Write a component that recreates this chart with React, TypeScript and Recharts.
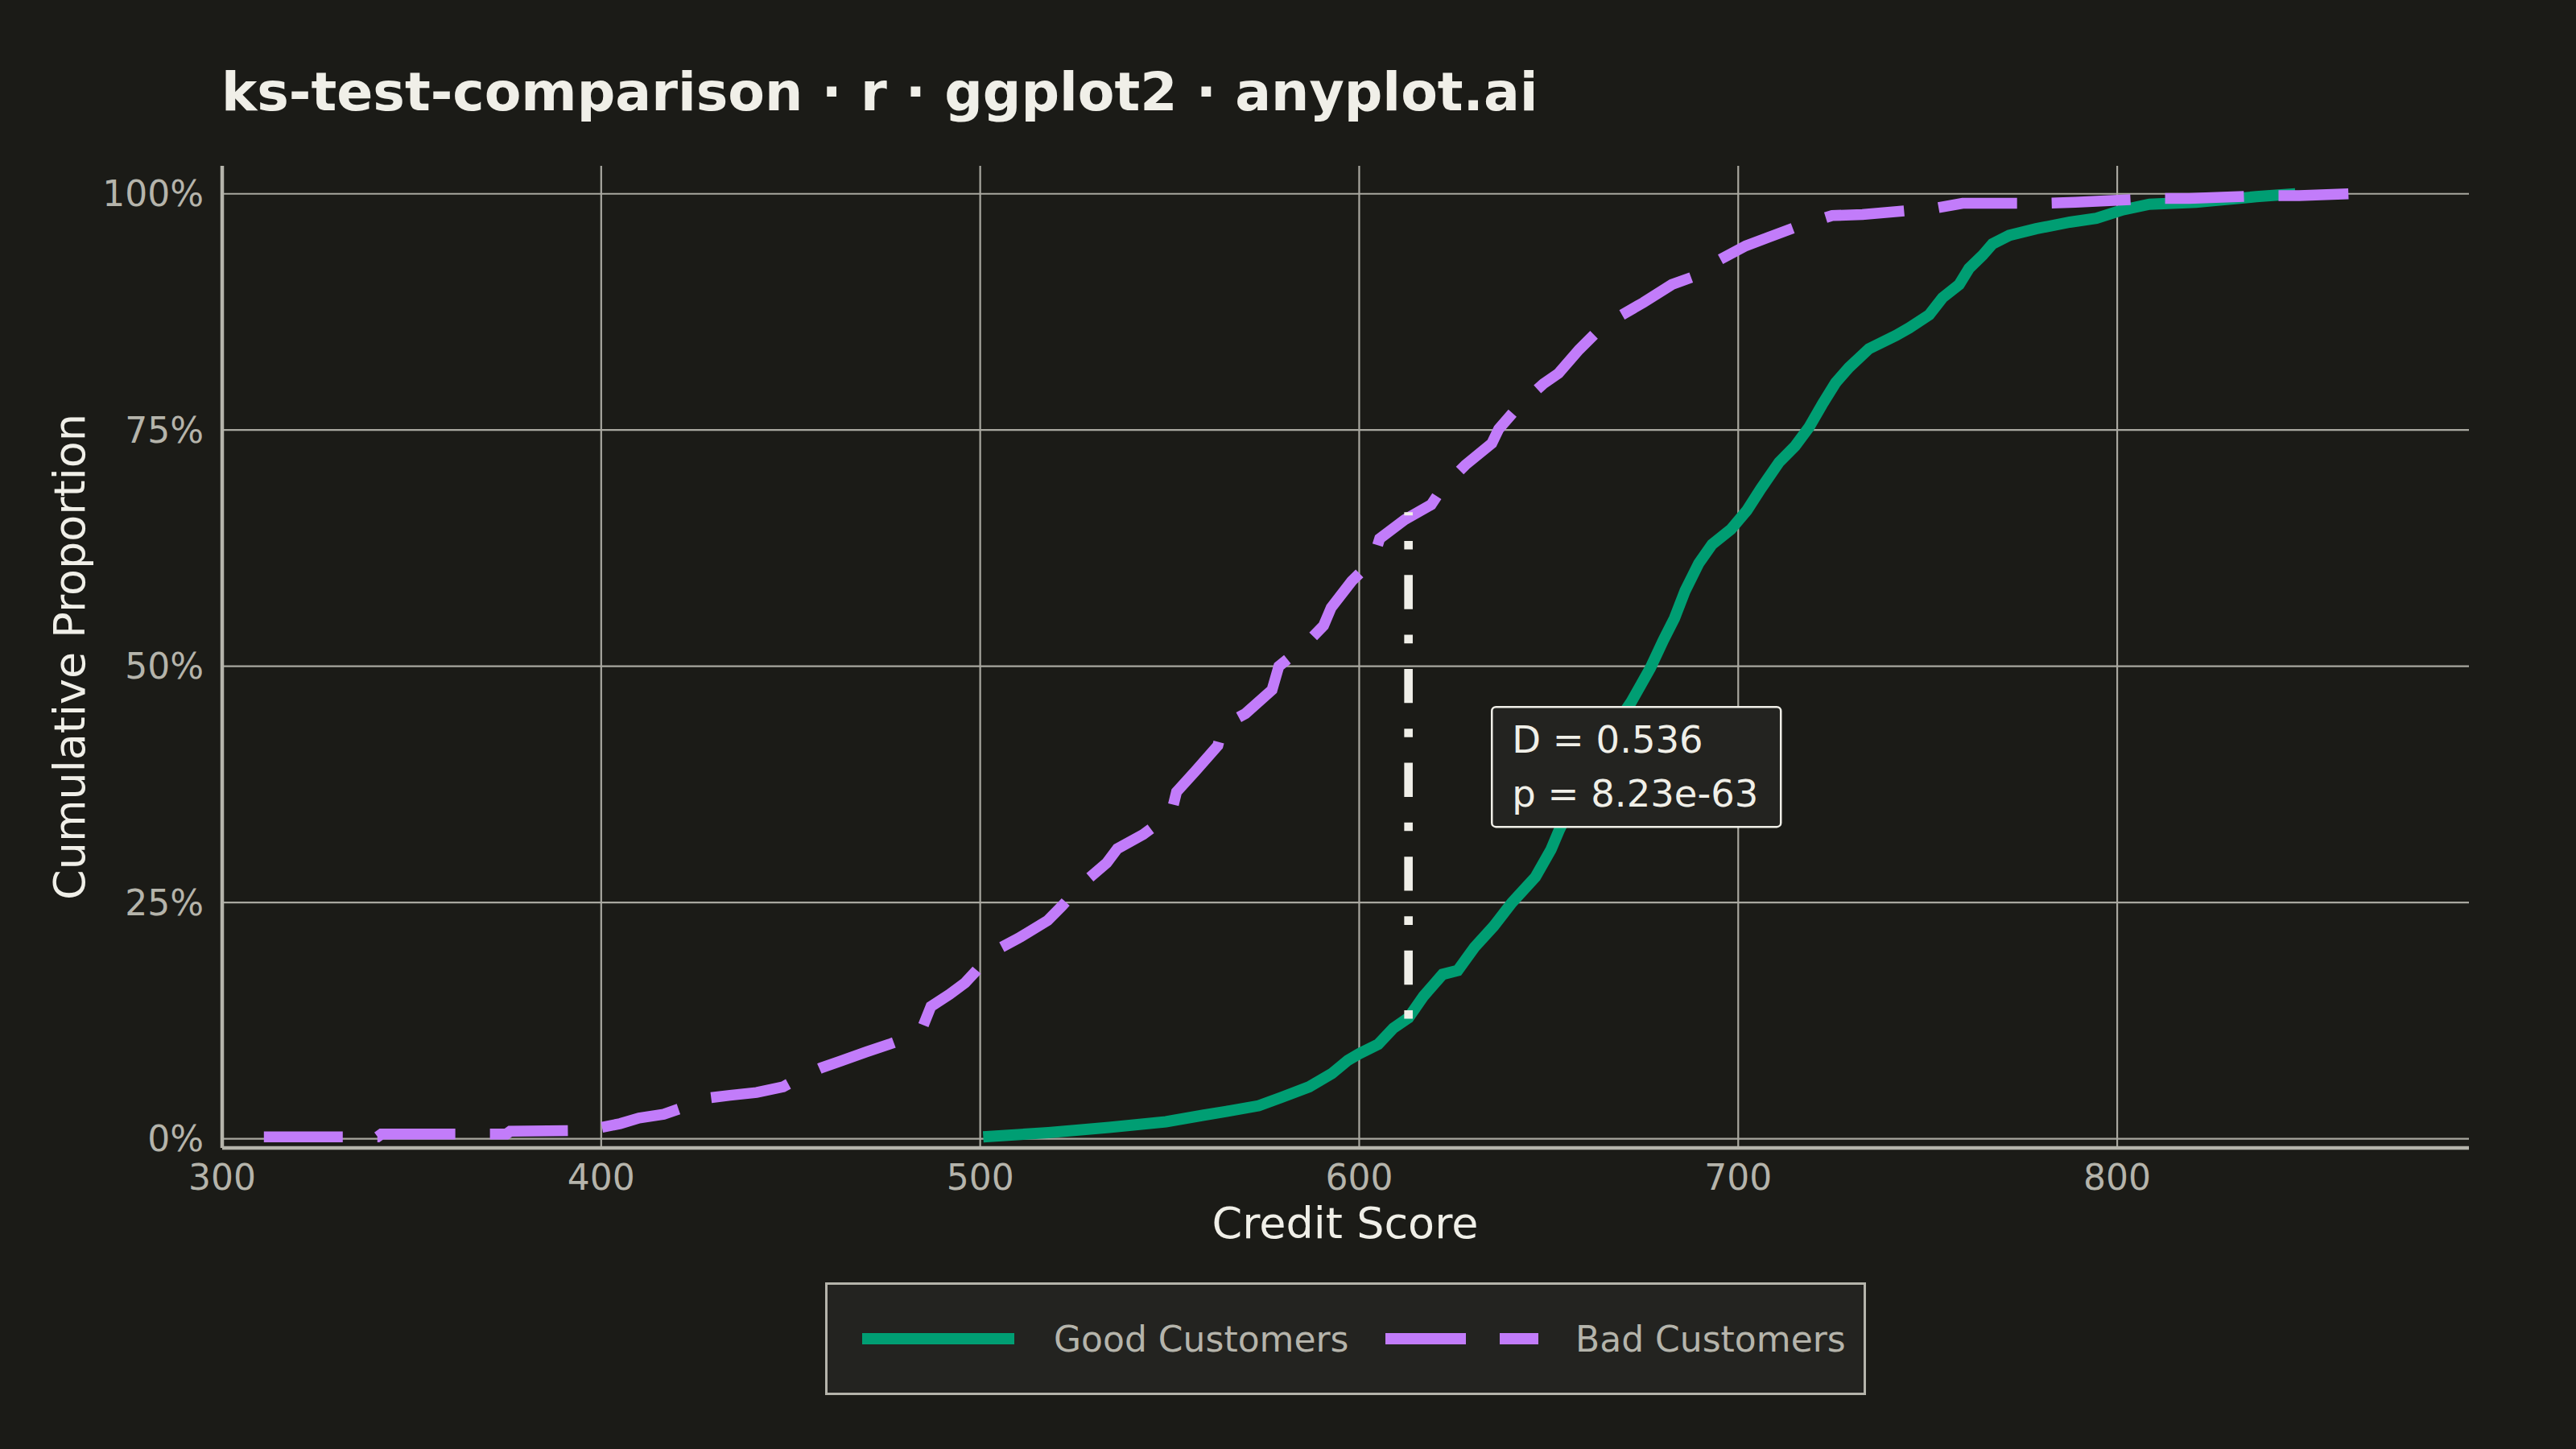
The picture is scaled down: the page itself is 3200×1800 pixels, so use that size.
import {
  LineChart,
  Line,
  XAxis,
  YAxis,
  CartesianGrid,
  ReferenceLine,
  ReferenceDot,
  Legend,
} from "recharts";

// ECDF of good customers (credit score, cumulative proportion)
const GOOD_SCORE = [
  500.8, 518, 534, 549, 559, 565, 573.5, 579.6, 586.8, 592.8, 597, 600, 605,
  609, 613, 617, 622, 626, 630.4, 635.5, 640.3, 646.5, 650.6, 652.7, 658, 664,
  668, 671.8, 676.8, 680.3, 683.2, 686, 689.6, 693.1, 698.1, 702.3, 706, 710.8,
  715, 718.7, 722.3, 725.7, 729.2, 734.5, 741.6, 745.1, 750.4, 753.9, 758.3,
  760.9, 764.5, 767.1, 771.5, 778.6, 787.5, 794.5, 801.5, 808.5, 820.8, 836.7,
  847,
];
const GOOD_CDF = [
  0.002, 0.0065, 0.012, 0.018, 0.025, 0.029, 0.035, 0.044, 0.055, 0.069, 0.083,
  0.09, 0.1, 0.117, 0.128, 0.151, 0.174, 0.178, 0.2025, 0.225, 0.25, 0.277,
  0.306, 0.326, 0.37, 0.41, 0.44, 0.4625, 0.498, 0.528, 0.551, 0.58, 0.609,
  0.629, 0.645, 0.665, 0.688, 0.716, 0.733, 0.753, 0.778, 0.8, 0.816, 0.836,
  0.85, 0.858, 0.872, 0.89, 0.904, 0.921, 0.935, 0.947, 0.956, 0.963, 0.97,
  0.974, 0.983, 0.989, 0.991, 0.997, 1.0,
];

// ECDF of bad customers
const BAD_SCORE = [
  311, 341, 342, 375, 376, 398, 400, 405, 410, 416.5, 423, 428, 434, 441, 448,
  453, 458, 463, 470, 476, 480, 485, 487, 492, 496, 499, 503, 510, 517.8, 521.5,
  527, 533.4, 536.2, 543, 550.4, 551.8, 557, 562.7, 564.1, 570, 577, 578.8, 585,
  590.6, 592.6, 598, 603.6, 605.4, 612, 619, 621.8, 628, 635, 636.8, 642, 648.6,
  652.6, 658, 664, 668.5, 675, 682.5, 688.7, 695, 702, 708, 716, 724.8, 732.8,
  752.2, 759.2, 780.3, 789, 809.4, 819, 838.5, 848, 861,
];
const BAD_CDF = [
  0.002, 0.002, 0.005, 0.005, 0.008, 0.009, 0.012, 0.016, 0.022, 0.026, 0.035,
  0.043, 0.046, 0.049, 0.055, 0.066, 0.075, 0.082, 0.092, 0.1, 0.106, 0.12,
  0.14, 0.153, 0.165, 0.178, 0.197, 0.212, 0.231, 0.246, 0.27, 0.292, 0.307,
  0.322, 0.344, 0.367, 0.39, 0.416, 0.437, 0.45, 0.475, 0.5, 0.52, 0.543, 0.562,
  0.59, 0.612, 0.635, 0.655, 0.671, 0.688, 0.713, 0.736, 0.751, 0.775, 0.799,
  0.81, 0.835, 0.859, 0.87, 0.885, 0.904, 0.913, 0.93, 0.945, 0.954, 0.966,
  0.977, 0.978, 0.985, 0.99, 0.99, 0.991, 0.995, 0.995, 0.998, 0.998, 1.0,
];

const X_TICKS = [300, 400, 500, 600, 700, 800];
const Y_TICKS = [0, 0.25, 0.5, 0.75, 1];

// KS statistic: position of max distance and the two ECDF values there
const KS_SCORE = 613;
const KS_LOW = 0.127;
const KS_HIGH = 0.663;
const KS_LABEL = ["D = 0.536", "p = 8.23e-63"];
const LABEL_AT = { x: 635, y: 0.457 };

const GOOD = GOOD_SCORE.map((x, i) => ({ x, y: GOOD_CDF[i] }));
const BAD = BAD_SCORE.map((x, i) => ({ x, y: BAD_CDF[i] }));

const BG = "#1b1b17";
const GREEN = "#009e73";
const PURPLE = "#c27cfa";
const INK = "#f0efe8";
const SOFT = "#b5b4ab";
const GRID = "#a9a8a0";
const FONT = "DejaVu Sans, Verdana, sans-serif";

function StatBox(props: any) {
  const { cx, cy } = props;
  return (
    <g>
      <rect
        x={cx}
        y={cy}
        width={359}
        height={149}
        rx={5}
        fill="#232320"
        stroke={INK}
        strokeWidth={2.5}
      />
      <text x={cx + 25} y={cy + 57} fill={INK} fontSize={46.5} fontFamily={FONT}>
        {KS_LABEL[0]}
      </text>
      <text x={cx + 25} y={cy + 124} fill={INK} fontSize={46.5} fontFamily={FONT}>
        {KS_LABEL[1]}
      </text>
    </g>
  );
}

function LegendBox() {
  return (
    <svg width={1293} height={140} style={{ display: "block" }}>
      <rect
        x={1.5}
        y={1.5}
        width={1290}
        height={137}
        fill="#232320"
        stroke={SOFT}
        strokeWidth={3}
      />
      <line x1={46} x2={235} y1={70} y2={70} stroke={GREEN} strokeWidth={14} />
      <text x={284} y={70} dy="0.36em" fill={SOFT} fontSize={44} fontFamily={FONT}>
        Good Customers
      </text>
      <line
        x1={696}
        x2={886}
        y1={70}
        y2={70}
        stroke={PURPLE}
        strokeWidth={14}
        strokeDasharray="100 42"
      />
      <text x={932} y={70} dy="0.36em" fill={SOFT} fontSize={44} fontFamily={FONT}>
        Bad Customers
      </text>
    </svg>
  );
}

export default function App() {
  return (
    <div
      style={{
        position: "absolute",
        left: 0,
        top: 0,
        width: 3200,
        height: 1800,
        background: BG,
        fontFamily: FONT,
      }}
    >
      <LineChart
        width={3200}
        height={1800}
        margin={{ top: 206, right: 133, bottom: 314, left: 0 }}
      >
        <CartesianGrid
          stroke={GRID}
          strokeWidth={2.2}
          horizontalValues={Y_TICKS}
          verticalValues={X_TICKS}
        />
        <XAxis
          type="number"
          dataKey="x"
          domain={[300, 892.8]}
          ticks={X_TICKS}
          allowDataOverflow
          height={60}
          tickLine={false}
          tickSize={0}
          tickMargin={21}
          axisLine={{ stroke: SOFT, strokeWidth: 4.5 }}
          tick={{ fill: SOFT, fontSize: 44, fontFamily: FONT }}
        />
        <YAxis
          type="number"
          domain={[-0.0097, 1.0296]}
          ticks={Y_TICKS}
          allowDataOverflow
          width={276}
          tickLine={false}
          tickSize={0}
          tickMargin={23}
          axisLine={{ stroke: SOFT, strokeWidth: 4.5 }}
          tick={{ fill: SOFT, fontSize: 44, fontFamily: FONT }}
          tickFormatter={(v: number) => `${Math.round(v * 100)}%`}
        />
        <Line
          data={GOOD}
          dataKey="y"
          type="linear"
          stroke={GREEN}
          strokeWidth={14}
          dot={false}
          isAnimationActive={false}
          name="Good Customers"
        />
        <Line
          data={BAD}
          dataKey="y"
          type="linear"
          stroke={PURPLE}
          strokeWidth={13.5}
          strokeDasharray="98 43"
          dot={false}
          isAnimationActive={false}
          name="Bad Customers"
        />
        <ReferenceLine
          segment={[
            { x: KS_SCORE, y: KS_LOW },
            { x: KS_SCORE, y: KS_HIGH },
          ]}
          stroke={INK}
          strokeWidth={10.6}
          strokeDasharray="10.6 31.8 42.4 31.8"
          zIndex={1200}
        />
        <ReferenceDot
          x={LABEL_AT.x}
          y={LABEL_AT.y}
          shape={StatBox}
          zIndex={1300}
        />
        <Legend
          layout="vertical"
          align="center"
          verticalAlign="middle"
          content={() => <LegendBox />}
          wrapperStyle={{ left: 1025, top: 1593, width: 1293, height: 140 }}
        />
      </LineChart>
      <svg
        width={3200}
        height={1800}
        style={{ position: "absolute", left: 0, top: 0, pointerEvents: "none" }}
      >
        <text x={275} y={137} fill={INK} fontSize={66.5} fontWeight="bold" fontFamily={FONT}>
          ks-test-comparison · r · ggplot2 · anyplot.ai
        </text>
        <text x={1671} y={1538} fill={INK} fontSize={54} textAnchor="middle" fontFamily={FONT}>
          Credit Score
        </text>
        <text
          x={0}
          y={0}
          fill={INK}
          fontSize={54}
          textAnchor="middle"
          fontFamily={FONT}
          transform="translate(105 816) rotate(-90)"
        >
          Cumulative Proportion
        </text>
      </svg>
    </div>
  );
}
